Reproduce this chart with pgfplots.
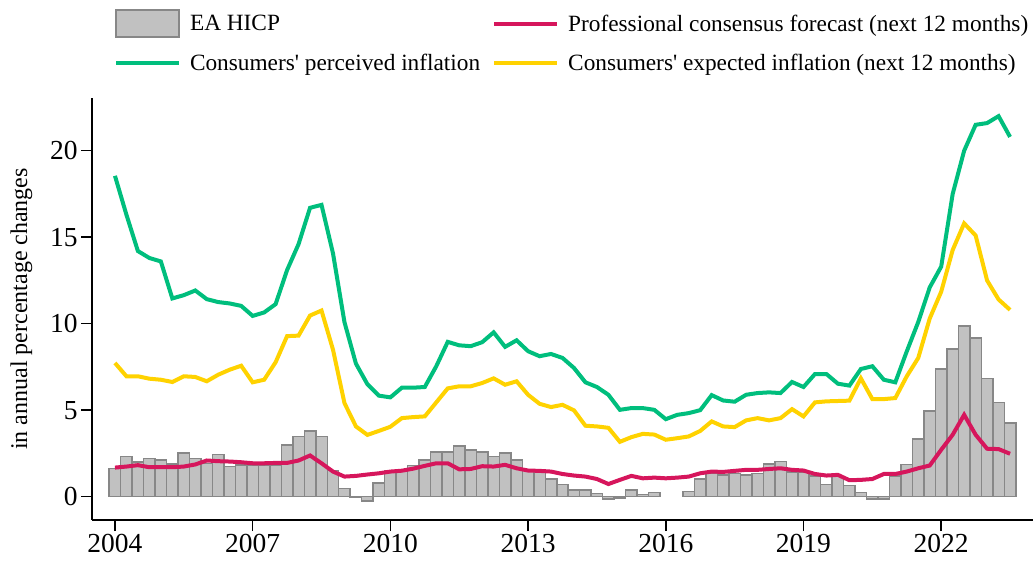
\documentclass[border=0pt]{standalone}
\usepackage{fontspec}
\setmainfont{Liberation Serif}
\usepackage{pgfplots}
\usepackage{pgfplotstable}
\pgfplotsset{compat=1.18}

\definecolor{hicpfill}{RGB}{193,193,193}
\definecolor{hicpedge}{RGB}{135,135,135}
\definecolor{profred}{RGB}{214,22,92}
\definecolor{percgreen}{RGB}{0,190,125}
\definecolor{expyellow}{RGB}{255,210,0}

% quarterly data: HICP, professional forecast, perceived, expected
\pgfplotstableread{
x       hicp   prof  perc   expc
2004.00  1.62  1.68  18.55  7.73
2004.25  2.32  1.74  16.30  6.96
2004.50  2.01  1.82  14.20  6.96
2004.75  2.20  1.70  13.80  6.82
2005.00  2.13  1.70  13.60  6.76
2005.25  1.89  1.70  11.46  6.63
2005.50  2.53  1.74  11.65  6.96
2005.75  2.20  1.86  11.92  6.92
2006.00  1.93  2.09  11.42  6.67
2006.25  2.43  2.05  11.25  7.05
2006.50  1.74  2.03  11.17  7.34
2006.75  1.82  1.99  11.03  7.57
2007.00  1.80  1.93  10.45  6.61
2007.25  1.80  1.93  10.65  6.76
2007.50  1.82  1.95  11.13  7.77
2007.75  3.00  1.95  13.10  9.28
2008.00  3.48  2.09  14.60  9.31
2008.25  3.79  2.38  16.70 10.47
2008.50  3.48  1.93  16.87 10.76
2008.75  1.51  1.45  14.07  8.50
2009.00  0.48  1.16  10.09  5.41
2009.25 -0.05  1.20   7.69  4.06
2009.50 -0.25  1.28   6.50  3.57
2009.75  0.79  1.35   5.84  3.80
2010.00  1.51  1.45   5.74  4.04
2010.25  1.51  1.50   6.30  4.54
2010.50  1.79  1.62   6.30  4.60
2010.75  2.13  1.78   6.34  4.64
2011.00  2.59  1.93   7.54  5.45
2011.25  2.59  1.93   8.95  6.26
2011.50  2.94  1.58   8.75  6.38
2011.75  2.71  1.60   8.70  6.38
2012.00  2.59  1.76   8.93  6.57
2012.25  2.32  1.74   9.50  6.84
2012.50  2.53  1.84   8.66  6.47
2012.75  2.13  1.64   9.04  6.67
2013.00  1.58  1.51   8.41  5.89
2013.25  1.51  1.49   8.12  5.37
2013.50  1.02  1.45   8.25  5.18
2013.75  0.70  1.31   8.02  5.31
2014.00  0.39  1.22   7.44  4.99
2014.25  0.39  1.16   6.61  4.10
2014.50  0.19  1.02   6.34  4.06
2014.75 -0.15  0.73   5.89  3.98
2015.00 -0.08  0.97   5.02  3.17
2015.25  0.39  1.20   5.12  3.44
2015.50  0.12  1.06   5.12  3.63
2015.75  0.23  1.10   5.02  3.59
2016.00  nan   1.06   4.48  3.29
2016.25  nan   1.10   4.73  3.38
2016.50  0.31  1.16   4.83  3.48
2016.75  1.02  1.35   5.00  3.80
2017.00  1.35  1.45   5.87  4.35
2017.25  1.24  1.43   5.56  4.06
2017.50  1.35  1.49   5.49  4.02
2017.75  1.24  1.55   5.89  4.41
2018.00  1.35  1.55   5.99  4.54
2018.25  1.89  1.60   6.03  4.41
2018.50  2.03  1.64   5.99  4.54
2018.75  1.43  1.55   6.63  5.06
2019.00  1.43  1.51   6.34  4.64
2019.25  1.20  1.31   7.09  5.45
2019.50  0.71  1.22   7.09  5.51
2019.75  1.16  1.26   6.53  5.53
2020.00  0.64  0.95   6.42  5.55
2020.25  0.23  0.97   7.38  6.84
2020.50 -0.15  1.02   7.54  5.64
2020.75 -0.15  1.31   6.76  5.64
2021.00  1.20  1.31   6.61  5.70
2021.25  1.86  1.45   8.40  6.96
2021.50  3.32  1.64  10.10  8.02
2021.75  4.95  1.80  12.10 10.30
2022.00  7.38  2.71  13.30 11.85
2022.25  8.54  3.58  17.50 14.26
2022.50  9.86  4.73  20.00 15.80
2022.75  9.16  3.58  21.50 15.10
2023.00  6.84  2.77  21.60 12.50
2023.25  5.45  2.75  22.00 11.40
2023.50  4.25  2.48  20.80 10.80
}\inflation

\begin{document}
\begin{tikzpicture}
\useasboundingbox (-92pt,-44pt) rectangle (941pt,520pt);
\begin{axis}[
    at={(0pt,0pt)}, anchor=south west,
    scale only axis,
    width=941pt, height=422pt,
    xmin=2003.5, xmax=2024,
    ymin=-1.35, ymax=23.05,
    axis x line*=bottom, axis y line*=left,
    axis line style={line width=1.5pt, -},
    xtick={2004,2007,...,2022},
    ytick={0,5,10,15,20},
    tick align=outside,
    major tick length=11pt,
    tick style={line width=1.5pt, black},
    x tick label style={/pgf/number format/1000 sep={}},
    ticklabel style={font=\fontsize{27.5}{30}\selectfont},
    /pgf/number format/assume math mode=true,
    ylabel={in annual percentage changes},
    ylabel style={font=\fontsize{24}{28}\selectfont, at={(axis description cs:-0.075,0.5)}, anchor=center},
    legend columns=2,
    legend cell align=left,
    legend style={at={(rel axis cs:0.0234,1.21)}, anchor=north west,
        draw=none, fill=none, inner sep=0pt, outer sep=0pt,
        row sep=16pt,
        font=\fontsize{23.3}{26}\selectfont,
        nodes={inner sep=0pt},
        /tikz/every odd column/.append style={column sep=9pt},
        /tikz/every even column/.append style={column sep=12pt}},
    legend image code/.code={\draw[#1] (0pt,0pt) -- (63pt,0pt);},
]
\addplot[ybar, bar width=0.25, bar shift=0pt, fill=hicpfill, draw=hicpedge, line width=1.5pt,
    legend image code/.code={\draw[fill=hicpfill, draw=hicpedge, line width=1.5pt] (0pt,-13.5pt) rectangle (63pt,13.5pt);}]
    table[x=x, y=hicp] {\inflation};
\addlegendentry{EA HICP}
\addplot[profred, line width=4pt] table[x=x, y=prof] {\inflation};
\addlegendentry{Professional consensus forecast (next 12 months)}
\addplot[percgreen, line width=4pt] table[x=x, y=perc] {\inflation};
\addlegendentry{Consumers\textquotesingle\ perceived inflation}
\addplot[expyellow, line width=4pt] table[x=x, y=expc] {\inflation};
\addlegendentry{Consumers\textquotesingle\ expected inflation (next 12 months)}
\end{axis}
\end{tikzpicture}
\end{document}
